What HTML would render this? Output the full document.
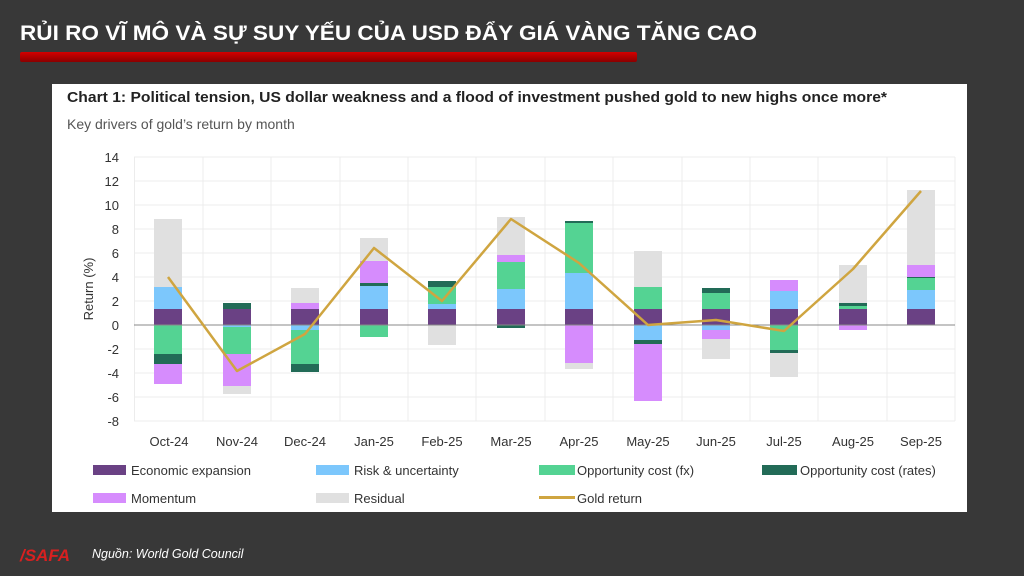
<!DOCTYPE html>
<html><head><meta charset="utf-8"><style>
body{margin:0;width:1024px;height:576px;background:#383838;overflow:hidden;font-family:"Liberation Sans","DejaVu Sans",sans-serif;}
</style></head><body>
<svg width="1024" height="576" xmlns="http://www.w3.org/2000/svg" style="position:absolute;left:0;top:0">
<defs><linearGradient id="rb" x1="0" y1="0" x2="0" y2="1"><stop offset="0" stop-color="#d40000"/><stop offset="1" stop-color="#8a0000"/></linearGradient></defs>
<text x="20" y="40" fill="#fff" font-size="21" font-weight="bold" font-family="Liberation Sans, DejaVu Sans, sans-serif" textLength="737" lengthAdjust="spacingAndGlyphs">RỦI RO VĨ MÔ VÀ SỰ SUY YẾU CỦA USD ĐẨY GIÁ VÀNG TĂNG CAO</text>
<rect x="20" y="52" width="617" height="10" rx="2" fill="url(#rb)"/>
<rect x="52" y="84" width="915" height="428" fill="#fff"/>
<text x="67" y="102" font-size="14.5" fill="#222" font-weight="bold" textLength="820" lengthAdjust="spacingAndGlyphs">Chart 1: Political tension, US dollar weakness and a flood of investment pushed gold to new highs once more*</text>
<text x="67" y="129" font-size="14" fill="#555">Key drivers of gold’s return by month</text>
<g stroke="#ececec" stroke-width="1">
<line x1="134" y1="157" x2="955" y2="157"/><line x1="134" y1="181" x2="955" y2="181"/><line x1="134" y1="205" x2="955" y2="205"/><line x1="134" y1="229" x2="955" y2="229"/><line x1="134" y1="253" x2="955" y2="253"/><line x1="134" y1="277" x2="955" y2="277"/><line x1="134" y1="301" x2="955" y2="301"/><line x1="134" y1="349" x2="955" y2="349"/><line x1="134" y1="373" x2="955" y2="373"/><line x1="134" y1="397" x2="955" y2="397"/><line x1="134" y1="421" x2="955" y2="421"/>
<line x1="134.5" y1="157" x2="134.5" y2="421"/><line x1="203" y1="157" x2="203" y2="421"/><line x1="271" y1="157" x2="271" y2="421"/><line x1="340" y1="157" x2="340" y2="421"/><line x1="408" y1="157" x2="408" y2="421"/><line x1="476" y1="157" x2="476" y2="421"/><line x1="545" y1="157" x2="545" y2="421"/><line x1="613" y1="157" x2="613" y2="421"/><line x1="682" y1="157" x2="682" y2="421"/><line x1="750" y1="157" x2="750" y2="421"/><line x1="818" y1="157" x2="818" y2="421"/><line x1="887" y1="157" x2="887" y2="421"/><line x1="955" y1="157" x2="955" y2="421"/>
</g>
<g font-size="13" fill="#333" text-anchor="end">
<text x="119" y="162">14</text><text x="119" y="186">12</text><text x="119" y="210">10</text><text x="119" y="234">8</text><text x="119" y="258">6</text><text x="119" y="282">4</text><text x="119" y="306">2</text><text x="119" y="330">0</text><text x="119" y="354">-2</text><text x="119" y="378">-4</text><text x="119" y="402">-6</text><text x="119" y="426">-8</text>
</g>
<text transform="translate(93,289) rotate(-90)" font-size="13" fill="#333" text-anchor="middle">Return (%)</text>
<g id="bars">
<!-- Oct x154 -->
<rect x="154" y="219" width="28" height="68" fill="#e0e0e0"/><rect x="154" y="287" width="28" height="22" fill="#7cc7fc"/><rect x="154" y="309" width="28" height="16" fill="#6a4184"/><rect x="154" y="325" width="28" height="29" fill="#54d393"/><rect x="154" y="354" width="28" height="10" fill="#226b57"/><rect x="154" y="364" width="28" height="20" fill="#d68cfd"/>
<!-- Nov -->
<rect x="223" y="303" width="28" height="6" fill="#226b57"/><rect x="223" y="309" width="28" height="16" fill="#6a4184"/><rect x="223" y="325" width="28" height="2" fill="#7cc7fc"/><rect x="223" y="327" width="28" height="27" fill="#54d393"/><rect x="223" y="354" width="28" height="32" fill="#d68cfd"/><rect x="223" y="386" width="28" height="8" fill="#e0e0e0"/>
<!-- Dec -->
<rect x="291" y="288" width="28" height="15" fill="#e0e0e0"/><rect x="291" y="303" width="28" height="6" fill="#d68cfd"/><rect x="291" y="309" width="28" height="16" fill="#6a4184"/><rect x="291" y="325" width="28" height="5" fill="#7cc7fc"/><rect x="291" y="330" width="28" height="34" fill="#54d393"/><rect x="291" y="364" width="28" height="8" fill="#226b57"/>
<!-- Jan -->
<rect x="360" y="238" width="28" height="23" fill="#e0e0e0"/><rect x="360" y="261" width="28" height="22" fill="#d68cfd"/><rect x="360" y="283" width="28" height="3" fill="#226b57"/><rect x="360" y="286" width="28" height="23" fill="#7cc7fc"/><rect x="360" y="309" width="28" height="16" fill="#6a4184"/><rect x="360" y="325" width="28" height="12" fill="#54d393"/>
<!-- Feb -->
<rect x="428" y="281" width="28" height="6" fill="#226b57"/><rect x="428" y="287" width="28" height="17" fill="#54d393"/><rect x="428" y="304" width="28" height="5" fill="#7cc7fc"/><rect x="428" y="309" width="28" height="16" fill="#6a4184"/><rect x="428" y="325" width="28" height="20" fill="#e0e0e0"/>
<!-- Mar -->
<rect x="497" y="217" width="28" height="38" fill="#e0e0e0"/><rect x="497" y="255" width="28" height="7" fill="#d68cfd"/><rect x="497" y="262" width="28" height="27" fill="#54d393"/><rect x="497" y="289" width="28" height="20" fill="#7cc7fc"/><rect x="497" y="309" width="28" height="16" fill="#6a4184"/><rect x="497" y="325" width="28" height="3" fill="#226b57"/>
<!-- Apr -->
<rect x="565" y="221" width="28" height="2" fill="#226b57"/><rect x="565" y="223" width="28" height="50" fill="#54d393"/><rect x="565" y="273" width="28" height="36" fill="#7cc7fc"/><rect x="565" y="309" width="28" height="16" fill="#6a4184"/><rect x="565" y="325" width="28" height="38" fill="#d68cfd"/><rect x="565" y="363" width="28" height="6" fill="#e0e0e0"/>
<!-- May -->
<rect x="634" y="251" width="28" height="36" fill="#e0e0e0"/><rect x="634" y="287" width="28" height="22" fill="#54d393"/><rect x="634" y="309" width="28" height="16" fill="#6a4184"/><rect x="634" y="325" width="28" height="15" fill="#7cc7fc"/><rect x="634" y="340" width="28" height="4" fill="#226b57"/><rect x="634" y="344" width="28" height="57" fill="#d68cfd"/>
<!-- Jun -->
<rect x="702" y="288" width="28" height="5" fill="#226b57"/><rect x="702" y="293" width="28" height="16" fill="#54d393"/><rect x="702" y="309" width="28" height="16" fill="#6a4184"/><rect x="702" y="325" width="28" height="5" fill="#7cc7fc"/><rect x="702" y="330" width="28" height="9" fill="#d68cfd"/><rect x="702" y="339" width="28" height="20" fill="#e0e0e0"/>
<!-- Jul -->
<rect x="770" y="280" width="28" height="11" fill="#d68cfd"/><rect x="770" y="291" width="28" height="18" fill="#7cc7fc"/><rect x="770" y="309" width="28" height="16" fill="#6a4184"/><rect x="770" y="325" width="28" height="25" fill="#54d393"/><rect x="770" y="350" width="28" height="3" fill="#226b57"/><rect x="770" y="353" width="28" height="24" fill="#e0e0e0"/>
<!-- Aug -->
<rect x="839" y="265" width="28" height="38" fill="#e0e0e0"/><rect x="839" y="303" width="28" height="3" fill="#226b57"/><rect x="839" y="306" width="28" height="3" fill="#54d393"/><rect x="839" y="309" width="28" height="16" fill="#6a4184"/><rect x="839" y="325" width="28" height="5" fill="#d68cfd"/>
<!-- Sep -->
<rect x="907" y="190" width="28" height="75" fill="#e0e0e0"/><rect x="907" y="265" width="28" height="12" fill="#d68cfd"/><rect x="907" y="277" width="28" height="1" fill="#226b57"/><rect x="907" y="278" width="28" height="12" fill="#54d393"/><rect x="907" y="290" width="28" height="19" fill="#7cc7fc"/><rect x="907" y="309" width="28" height="16" fill="#6a4184"/>
</g>
<line x1="134" y1="325" x2="955" y2="325" stroke="#888" stroke-width="1"/>
<polyline points="168,277 237,371 305,334 374,248 442,301 511,219 579,263 648,325 716,320 784,331 853,269 921,191" fill="none" stroke="#cfa540" stroke-width="2.5" stroke-linejoin="round"/>
<g font-size="13" fill="#333" text-anchor="middle">
<text x="169" y="446">Oct-24</text><text x="237" y="446">Nov-24</text><text x="305" y="446">Dec-24</text><text x="374" y="446">Jan-25</text><text x="442" y="446">Feb-25</text><text x="511" y="446">Mar-25</text><text x="579" y="446">Apr-25</text><text x="648" y="446">May-25</text><text x="716" y="446">Jun-25</text><text x="784" y="446">Jul-25</text><text x="853" y="446">Aug-25</text><text x="921" y="446">Sep-25</text>
</g>
<g font-size="13" fill="#333">
<rect x="93" y="465" width="33" height="10" fill="#6a4184"/><text x="131" y="475">Economic expansion</text>
<rect x="316" y="465" width="33" height="10" fill="#7cc7fc"/><text x="354" y="475">Risk &amp; uncertainty</text>
<rect x="539" y="465" width="36" height="10" fill="#54d393"/><text x="577" y="475">Opportunity cost (fx)</text>
<rect x="762" y="465" width="35" height="10" fill="#226b57"/><text x="800" y="475">Opportunity cost (rates)</text>
<rect x="93" y="493" width="33" height="10" fill="#d68cfd"/><text x="131" y="503">Momentum</text>
<rect x="316" y="493" width="33" height="10" fill="#e0e0e0"/><text x="354" y="503">Residual</text>
<rect x="539" y="496" width="36" height="3" fill="#cfa540"/><text x="577" y="503">Gold return</text>
</g>
<text x="20" y="561" font-size="17" font-weight="bold" font-style="italic" fill="#d82020">/SAFA</text>
<text x="92" y="558" font-size="12.5" font-style="italic" fill="#fff">Nguồn: World Gold Council</text>
</svg>
</body></html>
